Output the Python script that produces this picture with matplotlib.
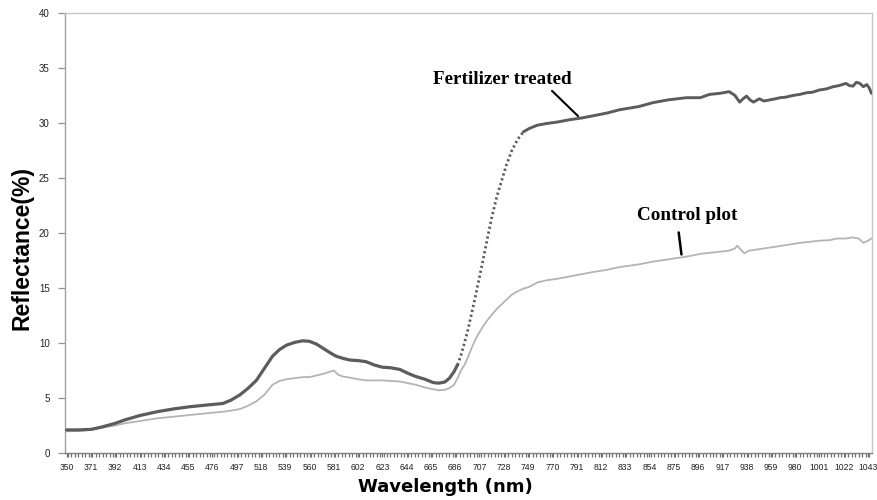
import matplotlib
matplotlib.use("Agg")
import matplotlib.pyplot as plt
from matplotlib.ticker import FixedLocator, MultipleLocator

# ---- data ----
wl_fert = [350, 360, 371, 380, 392, 400, 413, 428, 442, 456, 470, 485, 492, 500, 507, 514, 521, 528,
           534, 540, 547, 554, 560, 566, 572, 578, 583, 589, 595, 602, 609, 616, 623, 630, 638, 645,
           652, 660, 667, 672, 677, 681, 685, 688, 691, 694, 697, 700, 703, 706, 710, 714, 718, 722,
           726, 730, 735, 740, 745, 750, 757, 765, 775, 785, 795, 805, 817, 828, 845, 857, 870, 886,
           898, 906, 915, 923, 928, 932, 935, 938, 941, 944, 949, 953, 958, 963, 967, 972, 978, 984,
           990, 995, 1001, 1007, 1013, 1018, 1024, 1027, 1030, 1033, 1036, 1039, 1042, 1044, 1046]
refl_fert = [2.1, 2.1, 2.15, 2.35, 2.7, 3.0, 3.4, 3.75, 4.0, 4.2, 4.35, 4.5, 4.8, 5.3, 5.9, 6.6, 7.7, 8.8,
             9.4, 9.8, 10.05, 10.2, 10.15, 9.9, 9.5, 9.1, 8.8, 8.6, 8.45, 8.4, 8.3, 8.0, 7.8, 7.75, 7.6, 7.25,
             6.95, 6.7, 6.4, 6.35, 6.45, 6.8, 7.4, 8.0, 8.9, 10.0, 11.2, 12.6, 14.0, 15.5, 17.5, 19.6, 21.6, 23.3,
             24.7, 26.1, 27.5, 28.5, 29.2, 29.5, 29.8, 29.95, 30.1, 30.3, 30.45, 30.65, 30.9, 31.2, 31.5, 31.85, 32.1, 32.3,
             32.3, 32.6, 32.7, 32.85, 32.5, 31.9, 32.2, 32.45, 32.1, 31.9, 32.2, 32.0, 32.1, 32.2, 32.3, 32.35, 32.5, 32.6,
             32.75, 32.8, 33.0, 33.1, 33.3, 33.4, 33.6, 33.4, 33.35, 33.7, 33.6, 33.3, 33.5, 33.2, 32.7]

wl_ctrl = [350, 360, 371, 380, 392, 400, 413, 428, 442, 456, 470, 485, 492, 500, 507, 514, 521, 528,
           534, 540, 547, 554, 560, 566, 572, 578, 581, 585, 589, 595, 602, 609, 616, 623, 630, 638,
           645, 652, 660, 667, 672, 677, 681, 685, 688, 691, 694, 697, 700, 703, 706, 710, 714, 718,
           722, 726, 730, 735, 740, 745, 750, 757, 765, 775, 785, 795, 805, 817, 828, 845, 857, 870,
           886, 898, 906, 915, 923, 928, 930, 932, 936, 940, 944, 953, 963, 972, 984, 1001, 1010, 1016,
           1024, 1030, 1035, 1039, 1043, 1046]
refl_ctrl = [1.97, 2.0, 2.1, 2.3, 2.5, 2.7, 2.9, 3.15, 3.3, 3.45, 3.6, 3.75, 3.85, 4.0, 4.3, 4.7, 5.3, 6.2,
             6.55, 6.7, 6.8, 6.9, 6.9, 7.05, 7.2, 7.4, 7.5, 7.1, 6.95, 6.85, 6.7, 6.6, 6.6, 6.6, 6.55, 6.5,
             6.35, 6.2, 5.95, 5.8, 5.7, 5.75, 5.9, 6.2, 6.8, 7.5, 8.0, 8.7, 9.5, 10.2, 10.8, 11.5, 12.1, 12.6,
             13.1, 13.5, 13.9, 14.4, 14.7, 14.95, 15.1, 15.5, 15.7, 15.85, 16.05, 16.25, 16.45, 16.65, 16.9, 17.15, 17.4, 17.6,
             17.85, 18.1, 18.2, 18.3, 18.4, 18.6, 18.85, 18.6, 18.15, 18.4, 18.45, 18.6, 18.75, 18.9, 19.1, 19.3, 19.35, 19.5,
             19.5, 19.6, 19.5, 19.1, 19.3, 19.5]

xtick_labels = [350, 371, 392, 413, 434, 455, 476, 497, 518, 539, 560, 581, 602, 623, 644, 665, 686,
                707, 728, 749, 770, 791, 812, 833, 854, 875, 896, 917, 938, 959, 980, 1001, 1022, 1043]
yticks = [0, 5, 10, 15, 20, 25, 30, 35, 40]

# ---- figure ----
fig = plt.figure(figsize=(8.77, 5.0), dpi=100)
ax = fig.add_axes([65 / 877, 47 / 500, 807 / 877, 440 / 500])

ctrl_color = "#b4b4b4"
fert_color = "#5c5c5c"

ax.plot(wl_ctrl, refl_ctrl, color=ctrl_color, lw=1.3, solid_joinstyle="round", zorder=2)

# fertilizer: solid outside the steep red-edge rise, dotted along it
i0 = wl_fert.index(688)
i1 = wl_fert.index(745)
ax.plot(wl_fert[:i0 + 1], refl_fert[:i0 + 1], color=fert_color, lw=2.3, zorder=3,
        solid_capstyle="round", solid_joinstyle="round")
ax.plot(wl_fert[i0:i1 + 1], refl_fert[i0:i1 + 1], color=fert_color, lw=2.0, zorder=3,
        linestyle=(0, (0.8, 1.0)))
ax.plot(wl_fert[i1:], refl_fert[i1:], color=fert_color, lw=2.1, zorder=3,
        solid_capstyle="round", solid_joinstyle="round")

ax.set_xlim(348.5, 1046.5)
ax.set_ylim(0, 40)

for s in ax.spines.values():
    s.set_color("#c8c8c8")
    s.set_linewidth(1.0)
ax.spines["left"].set_color("#a0a0a0")
ax.spines["bottom"].set_color("#808080")

tick_family = ["Liberation Sans Narrow", "Liberation Sans", "DejaVu Sans"]

ax.xaxis.set_major_locator(FixedLocator(xtick_labels))
ax.set_xticklabels([str(v) for v in xtick_labels])
ax.xaxis.set_minor_locator(MultipleLocator(3))
ax.tick_params(axis="x", which="major", length=3, width=0.9, color="#707070", pad=4,
               labelsize=6.2, direction="out")
ax.tick_params(axis="x", which="minor", length=3, width=0.9, color="#707070", direction="out")
for lab in ax.get_xticklabels():
    lab.set_family(tick_family)
    lab.set_color("#222222")

ax.set_yticks(yticks)
ax.set_yticklabels([str(v) for v in yticks])
ax.tick_params(axis="y", length=5, width=0.9, color="#909090", pad=6, labelsize=7)
for lab in ax.get_yticklabels():
    lab.set_family(tick_family)
    lab.set_color("#222222")

fig.text(22 / 877, 1 - 248 / 500, "Reflectance(%)", rotation=90, ha="center", va="center",
         fontsize=16.5, fontweight="bold", family=["Liberation Sans Narrow", "Liberation Sans"])
fig.text(445 / 877, 1 - 487 / 500, "Wavelength (nm)", ha="center", va="center",
         fontsize=13, fontweight="bold", family=["DejaVu Sans"])

# annotations
ax.annotate("", xy=(794, 30.45), xytext=(768, 33.1),
            arrowprops=dict(arrowstyle="-", color="black", lw=1.5))
ax.text(727, 34.0, "Fertilizer treated", ha="center", va="center", fontsize=13.8,
        fontweight="bold", family=["Liberation Serif", "DejaVu Serif"])
ax.annotate("", xy=(882, 17.8), xytext=(879, 20.3),
            arrowprops=dict(arrowstyle="-", color="black", lw=1.8))
ax.text(887, 21.6, "Control plot", ha="center", va="center", fontsize=13.8,
        fontweight="bold", family=["Liberation Serif", "DejaVu Serif"])

fig.savefig("out.png", dpi=100)
